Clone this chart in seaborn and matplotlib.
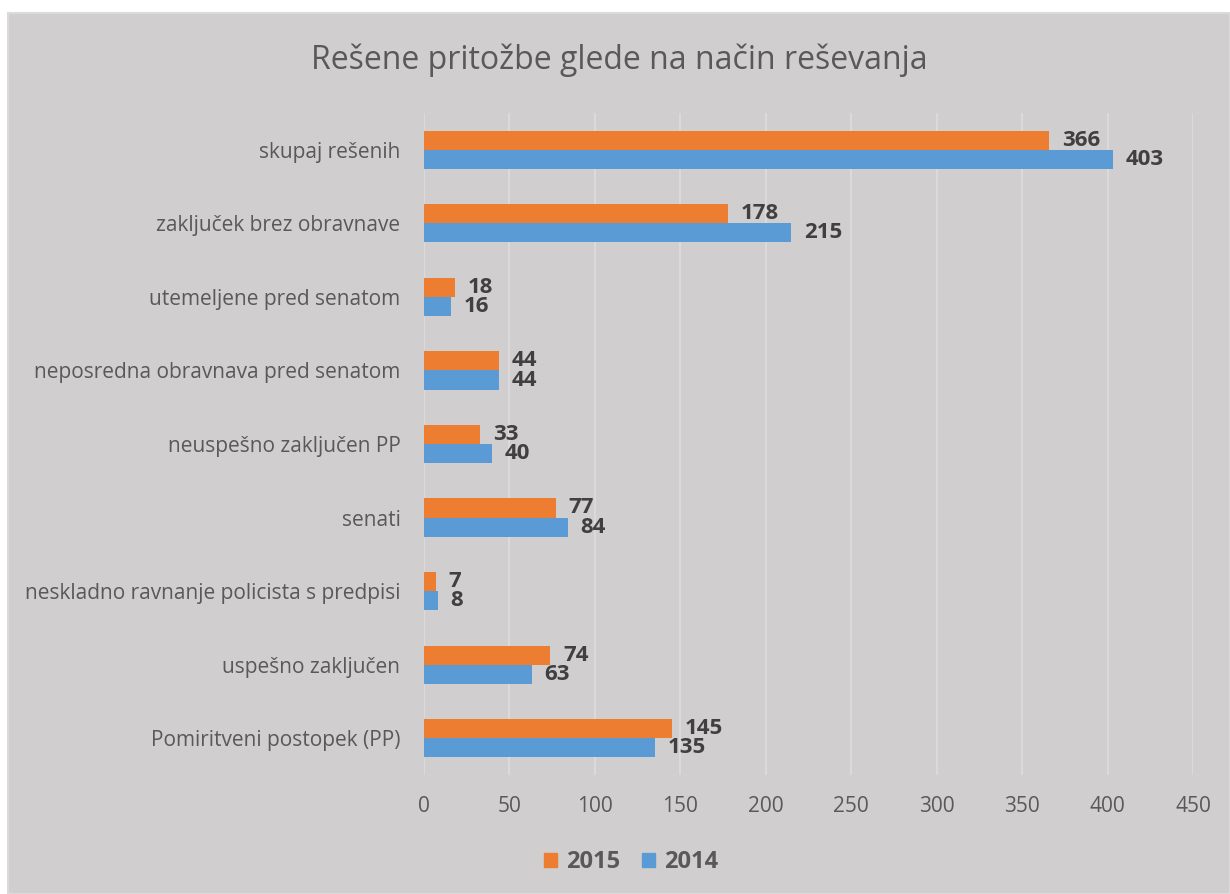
import matplotlib
matplotlib.use("Agg")
import matplotlib.pyplot as plt
import matplotlib.patches as mpatches
import seaborn as sns
import pandas as pd

categories = [
    "skupaj rešenih",
    "zaključek brez obravnave",
    "utemeljene pred senatom",
    "neposredna obravnava pred senatom",
    "neuspešno zaključen PP",
    "senati",
    "neskladno ravnanje policista s predpisi",
    "uspešno zaključen",
    "Pomiritveni postopek (PP)",
]
values_2015 = [366, 178, 18, 44, 33, 77, 7, 74, 145]
values_2014 = [403, 215, 16, 44, 40, 84, 8, 63, 135]
years = ["2015", "2014"]
colors = {"2015": "#ED7D31", "2014": "#5B9BD5"}
xticks = [0, 50, 100, 150, 200, 250, 300, 350, 400, 450]

df = pd.DataFrame({
    "cat": categories * 2,
    "val": values_2015 + values_2014,
    "year": ["2015"] * len(categories) + ["2014"] * len(categories),
})

sns.set_theme(style="white")
plt.rcParams["font.family"] = ["Open Sans", "DejaVu Sans"]

W, H = 1230, 894
fig = plt.figure(figsize=(W / 100, H / 100), dpi=100)
fig.patch.set_facecolor("white")
bg = mpatches.Rectangle((8 / W, 0), 1 - 8 / W, 1 - 13 / H, transform=fig.transFigure,
                        facecolor="#D0CECE", edgecolor="#DCDADA", linewidth=1.5, zorder=-10)
fig.patches.append(bg)

ax = fig.add_axes([424 / W, 1 - 775 / H, (1193 - 424) / W, (775 - 113) / H])
ax.set_facecolor("#D0CECE")
sns.barplot(data=df, y="cat", x="val", hue="year", hue_order=years, order=categories,
            palette=colors, orient="h", width=0.52, ax=ax, legend=False, saturation=1,
            edgecolor="none")

ax.set_xlim(0, 450)
ax.set_xticks(xticks)
ax.set_xticklabels([str(t) for t in xticks])
ax.set_xlabel("")
ax.set_ylabel("")
for s in ax.spines.values():
    s.set_visible(False)
ax.grid(axis="x", color="#DEDCDC", linewidth=1.2)
ax.grid(axis="y", visible=False)
ax.set_axisbelow(True)
ax.tick_params(axis="both", length=0, colors="#595959")
ax.tick_params(axis="y", labelsize=15, pad=17)
ax.tick_params(axis="x", labelsize=15, pad=15)
for lab in ax.get_yticklabels() + ax.get_xticklabels():
    lab.set_color("#595959")

for cont in ax.containers:
    ax.bar_label(cont, fmt="%d", padding=9, fontsize=16, fontweight="bold", color="#404040")

fig.text(0.5 + 4 / W, 1 - 60 / H, "Rešene pritožbe glede na način reševanja",
         ha="center", va="center", fontsize=23, color="#595959")

handles = [mpatches.Patch(color=colors[y], label=y) for y in years]
leg = fig.legend(handles=handles, loc="center", bbox_to_anchor=(631 / W, 1 - 862 / H),
                 ncol=2, frameon=False, handlelength=0.55, handleheight=0.55,
                 columnspacing=0.9, handletextpad=0.4,
                 prop={"weight": "bold", "size": 17})
for t in leg.get_texts():
    t.set_color("#595959")

fig.savefig("out.png", dpi=100, facecolor=fig.get_facecolor())
